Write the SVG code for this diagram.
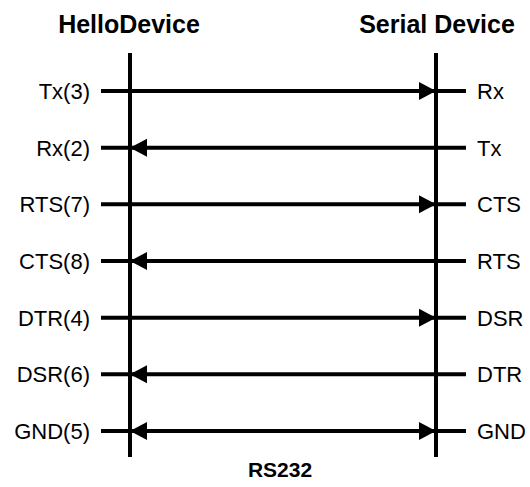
<svg xmlns="http://www.w3.org/2000/svg" width="530" height="487" viewBox="0 0 530 487">
<style>
text{font-family:"Liberation Sans",Arial,sans-serif;fill:#000}
.title{font-size:25px;font-weight:bold;text-anchor:middle}
.lbl{font-size:22px}
.l{text-anchor:end}
.r{text-anchor:start}
.bus{stroke:#000;stroke-width:4;fill:none}
.wire{stroke:#000;stroke-width:4;fill:none}
.ah{fill:#000;stroke:none}
</style>
<defs>
<polygon id="arR" class="ah" points="0,0 -17,-9 -17,9"/>
<polygon id="arL" class="ah" points="0,0 17,-9 17,9"/>
</defs>
<rect width="530" height="487" fill="#fff"/>
<g id="helloDevice">
<text class="title" x="129" y="33">HelloDevice</text>
<line class="bus" x1="130" y1="53" x2="130" y2="457"/>
</g>
<g id="serialDevice">
<text class="title" x="437" y="33">Serial Device</text>
<line class="bus" x1="436" y1="53" x2="436" y2="457"/>
</g>
<g id="rs232"><text class="title" style="font-size:21px" x="280" y="477">RS232</text></g>
<g id="labels">
<text class="lbl l" x="90" y="98.8">Tx(3)</text>
<text class="lbl l" x="90" y="155.5">Rx(2)</text>
<text class="lbl l" x="90" y="212.1">RTS(7)</text>
<text class="lbl l" x="90" y="268.8">CTS(8)</text>
<text class="lbl l" x="90" y="325.5">DTR(4)</text>
<text class="lbl l" x="90" y="382.1">DSR(6)</text>
<text class="lbl l" x="90" y="438.8">GND(5)</text>
<text class="lbl r" x="477" y="98.8">Rx</text>
<text class="lbl r" x="477" y="155.5">Tx</text>
<text class="lbl r" x="477" y="212.1">CTS</text>
<text class="lbl r" x="477" y="268.8">RTS</text>
<text class="lbl r" x="477" y="325.5">DSR</text>
<text class="lbl r" x="477" y="382.1">DTR</text>
<text class="lbl r" x="477" y="438.8">GND</text>
</g>
<g id="connectors">
<line class="wire" x1="101" y1="91" x2="466" y2="91"/>
<use href="#arR" x="436" y="91"/>
<line class="wire" x1="101" y1="147.7" x2="466" y2="147.7"/>
<use href="#arL" x="130" y="147.7"/>
<line class="wire" x1="101" y1="204.3" x2="466" y2="204.3"/>
<use href="#arR" x="436" y="204.3"/>
<line class="wire" x1="101" y1="261" x2="466" y2="261"/>
<use href="#arL" x="130" y="261"/>
<line class="wire" x1="101" y1="317.7" x2="466" y2="317.7"/>
<use href="#arR" x="436" y="317.7"/>
<line class="wire" x1="101" y1="374.3" x2="466" y2="374.3"/>
<use href="#arL" x="130" y="374.3"/>
<line class="wire" x1="101" y1="431" x2="466" y2="431"/>
<use href="#arL" x="130" y="431"/>
<use href="#arR" x="436" y="431"/>
</g>
</svg>
